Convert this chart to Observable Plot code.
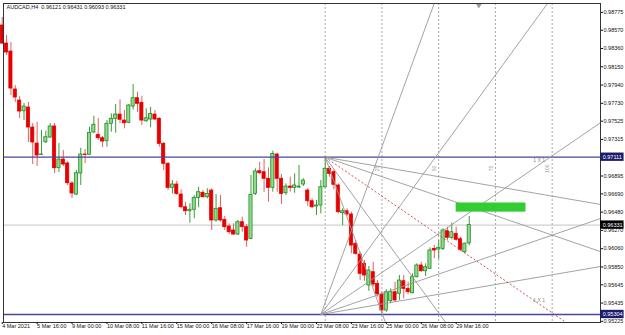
<!DOCTYPE html>
<html><head><meta charset="utf-8">
<script src="https://cdn.jsdelivr.net/npm/d3@7"></script>
<script src="https://cdn.jsdelivr.net/npm/@observablehq/plot@0.6"></script>
<style>body{margin:0;background:#fff}#chart svg{display:block}</style>
</head><body><div id="chart"></div>
<script>
const header = "AUDCAD,H4  0.96121 0.96431 0.96093 0.96331";
const opens = [
0.98624,0.98417,0.98325,0.97889,0.97762,0.97639,0.97682,0.97452,0.97268,0.97136,
0.97283,0.97337,0.97464,0.96985,0.97084,0.97039,0.96809,0.96682,0.96924,0.97142,
0.97139,0.97395,0.97368,0.97329,0.97295,0.97495,0.97552,0.97601,0.97532,0.97506,
0.97693,0.97789,0.97736,0.97524,0.97544,0.97601,0.97552,0.97265,0.97035,0.96759,
0.96797,0.96682,0.96536,0.96490,0.96507,0.96644,0.96702,0.96651,0.96728,0.96384,
0.96525,0.96392,0.96315,0.96269,0.96223,0.96364,0.96307,0.96173,0.96690,0.96950,
0.96939,0.96863,0.96759,0.97142,0.96863,0.96697,0.96774,0.96759,0.96763,0.96797,
0.96728,0.96605,0.96545,0.96556,0.96766,0.96978,0.96939,0.96786,0.96468,0.96490,
0.96453,0.96116,0.95993,0.95886,0.95637,0.95790,0.95656,0.95534,0.95350,0.95457,
0.95560,0.95542,0.95686,0.95599,0.95548,0.95732,0.95867,0.95801,0.95829,0.96058,
0.96050,0.96058,0.96261,0.96185,0.96231,0.96169,0.96020,0.96121];
const highs = [
0.98716,0.98509,0.98429,0.97935,0.97808,0.97728,0.97739,0.97498,0.97510,0.97418,
0.97410,0.97498,0.97498,0.97268,0.97188,0.97061,0.96832,0.96958,0.97214,0.97199,
0.97456,0.97582,0.97555,0.97349,0.97532,0.97609,0.97716,0.97770,0.97647,0.97716,
0.97946,0.97858,0.97808,0.97667,0.97685,0.97647,0.97567,0.97280,0.97050,0.96843,
0.96835,0.96736,0.96594,0.96575,0.96671,0.96766,0.96728,0.96748,0.96748,0.96682,
0.96671,0.96430,0.96346,0.96346,0.96384,0.96422,0.96338,0.96901,0.96978,0.97053,
0.97084,0.96989,0.97180,0.97157,0.96912,0.96805,0.96881,0.96920,0.97016,0.96863,
0.96751,0.96633,0.96613,0.96843,0.97111,0.97004,0.96966,0.96805,0.96518,0.96518,
0.96479,0.96154,0.96020,0.95924,0.95855,0.95905,0.95694,0.95560,0.95588,0.95599,
0.95675,0.95752,0.95752,0.95675,0.95771,0.95886,0.95905,0.95886,0.96070,0.96096,
0.96154,0.96288,0.96307,0.96353,0.96307,0.96192,0.96123,0.96431];
const lows = [
0.98406,0.98279,0.97820,0.97739,0.97555,0.97532,0.97280,0.97027,0.97004,0.97130,
0.97268,0.97326,0.96924,0.96935,0.97004,0.96786,0.96636,0.96671,0.96786,0.97039,
0.97130,0.97383,0.97303,0.97222,0.97226,0.97398,0.97387,0.97495,0.97437,0.97495,
0.97655,0.97628,0.97475,0.97513,0.97449,0.97532,0.97226,0.96958,0.96728,0.96690,
0.96671,0.96518,0.96441,0.96353,0.96403,0.96530,0.96644,0.96633,0.96269,0.96364,
0.96364,0.96269,0.96223,0.96211,0.96211,0.96249,0.96077,0.96162,0.96671,0.96912,
0.96709,0.96594,0.96709,0.96709,0.96567,0.96671,0.96709,0.96697,0.96751,0.96774,
0.96545,0.96518,0.96441,0.96461,0.96759,0.96881,0.96736,0.96461,0.96326,0.96430,
0.96001,0.95982,0.95694,0.95686,0.95571,0.95617,0.95503,0.95312,0.95330,0.95427,
0.95445,0.95465,0.95484,0.95534,0.95542,0.95725,0.95790,0.95740,0.95821,0.95944,
0.95936,0.96039,0.96154,0.96162,0.96146,0.96031,0.96001,0.96093];
const closes = [
0.98417,0.98314,0.97900,0.97797,0.97636,0.97693,0.97452,0.97280,0.97130,0.97142,
0.97341,0.97464,0.96985,0.97084,0.97027,0.96812,0.96694,0.96927,0.97142,0.97136,
0.97391,0.97483,0.97329,0.97291,0.97495,0.97552,0.97601,0.97541,0.97501,0.97705,
0.97789,0.97724,0.97532,0.97559,0.97609,0.97544,0.97265,0.97035,0.96759,0.96797,
0.96690,0.96536,0.96490,0.96507,0.96644,0.96709,0.96651,0.96690,0.96384,0.96518,
0.96384,0.96307,0.96249,0.96223,0.96364,0.96307,0.96154,0.96679,0.96947,0.96927,
0.96863,0.96759,0.97150,0.96863,0.96690,0.96774,0.96759,0.96786,0.96774,0.96843,
0.96605,0.96536,0.96556,0.96766,0.96978,0.96920,0.96794,0.96479,0.96490,0.96453,
0.96096,0.96001,0.95771,0.95752,0.95809,0.95648,0.95534,0.95350,0.95560,0.95560,
0.95465,0.95694,0.95599,0.95560,0.95732,0.95867,0.95801,0.95847,0.96039,0.96039,
0.96070,0.96269,0.96185,0.96249,0.96162,0.96047,0.96118,0.96331];
const timeLabels = ["4 Mar 2021","5 Mar 16:00","9 Mar 00:00","10 Mar 08:00","11 Mar 16:00","15 Mar 00:00","16 Mar 08:00","17 Mar 16:00","19 Mar 00:00","22 Mar 08:00","23 Mar 16:00","25 Mar 00:00","26 Mar 08:00","29 Mar 16:00"];
const labelBars = [0,8,16,24,32,40,48,56,64,72,80,88,96,104];
const priceTicks = [0.98775,0.98570,0.98360,0.98150,0.97940,0.97730,0.97525,0.97315,0.96895,0.96690,0.96480,0.96270,0.96060,0.95850,0.95645,0.95435,0.95225];
const levelPrices = [0.97111, 0.95304];
const bidPrice = 0.96331;
const fanOrigins = [{name:"top", bar:74, price:0.97111, dir:-1},{name:"bottom", bar:73, price:0.95304, dir:1}];
const fanRatios = [0.25, 0.5, 1, 2, 4];
const gannStep = 0.000344;
const timeLineBars = [74, 87, 100, 113, 126];
const timeLineTexts = ["", "25", "50", "75", "100"];
const zoneBars = [104, 120];
const zonePrices = [0.96480, 0.96585];
const shiftBar = 109.2;

const xMin = 0.3, xMax = 137.07;
const candles = opens.map((o, i) => ({i, open:o, high:highs[i], low:lows[i], close:closes[i]}));
const isUp = d => d.close >= d.open;
const fanEnd = 150;
const fans = [];
for (const f of fanOrigins) for (const r of fanRatios)
  fans.push({fan:f.name, ratio:r, x1:f.bar, y1:f.price, x2:fanEnd, y2:f.price + f.dir*r*gannStep*(fanEnd - f.bar)});
const oneByOne = fanOrigins.map(f => ({bar:123, price:f.price + f.dir*gannStep*(123 - f.bar)}));
const tlabels = timeLineBars.map((b,k) => ({bar:b - 1, text:timeLineTexts[k]})).filter(d => d.text);
const boxes = [
  {price:levelPrices[0], fill:"#1c1c6c"},
  {price:levelPrices[1], fill:"#1c1c6c"},
  {price:bidPrice, fill:"#000"}
];
const fmt = d3.format(".5f");

const chart = Plot.plot({
  width: 625, height: 335,
  marginLeft: 3, marginRight: 25, marginTop: 3, marginBottom: 13,
  x: {domain: [xMin, xMax], axis: null},
  y: {domain: [0.95212, 0.98877], axis: null},
  style: {fontFamily: "'Liberation Sans', Arial, sans-serif", fontSize: "5.5px", background: "#fff", color: "#111"},
  marks: [
    Plot.ruleX(timeLineBars, {x: d => d, stroke: "#a8a8a8", strokeDasharray: "2,2"}),
    Plot.ruleY([bidPrice], {stroke: "#c4c4c4"}),
    Plot.ruleX(candles, {x: "i", y1: "low", y2: "high", stroke: d => isUp(d) ? "#3c9a3c" : "#e06060"}),
    Plot.rect(candles, {x1: d => d.i - 0.36, x2: d => d.i + 0.36, y1: "open", y2: "close",
      fill: d => isUp(d) ? "#8edb8e" : "#e80000", stroke: d => isUp(d) ? "#238c23" : "#e80000", strokeWidth: 0.8}),
    Plot.ruleY(levelPrices, {stroke: "#46469a", strokeWidth: 1.3}),
    Plot.link(fans.filter(d => !(d.fan === "top" && d.ratio === 1)), {x1: "x1", y1: "y1", x2: "x2", y2: "y2", stroke: "#999", strokeWidth: 0.9, clip: true}),
    Plot.link(fans.filter(d => d.fan === "top" && d.ratio === 1), {x1: "x1", y1: "y1", x2: "x2", y2: "y2", stroke: "#c84040", strokeWidth: 0.9, strokeDasharray: "2,2", clip: true}),
    Plot.rect([0], {x1: () => zoneBars[0], x2: () => zoneBars[1], y1: () => zonePrices[0], y2: () => zonePrices[1], fill: "#33cc33"}),
    Plot.text(oneByOne, {x: "bar", y: "price", text: () => "1 X 1", dy: -4, fill: "#888", fontSize: 5}),
    Plot.text(tlabels, {x: "bar", y: () => 0.96981, text: "text", rotate: -90, fill: "#999", fontSize: 5}),
    Plot.dot([shiftBar], {x: d => d, frameAnchor: "top", symbol: "triangle", rotate: 180, r: 2, fill: "#999", stroke: null, dy: 2}),
    Plot.frame({stroke: "#333"}),
    Plot.axisY(priceTicks, {anchor: "right", tickSize: 2, tickPadding: 1, tickFormat: fmt, fontSize: 5.5, label: null}),
    Plot.axisX(labelBars, {anchor: "bottom", tickSize: 2, tickPadding: 0, textAnchor: "start", tickFormat: d => timeLabels[labelBars.indexOf(d)], fontSize: 5.5, label: null}),
    Plot.rect(boxes, {x1: () => xMax, x2: () => xMax + 5.4, y1: d => d.price - 0.00048, y2: d => d.price + 0.00048, fill: "fill"}),
    Plot.text(boxes, {x: () => xMax + 0.5, y: "price", text: d => fmt(d.price), fill: "#fff", textAnchor: "start", fontSize: 5.5}),
    Plot.text([header], {frameAnchor: "top-left", dx: 3, dy: 2, lineAnchor: "top", textAnchor: "start", fontSize: 5.5, fill: "#111"})
  ]
});
document.getElementById("chart").appendChild(chart);
</script>
</body></html>
